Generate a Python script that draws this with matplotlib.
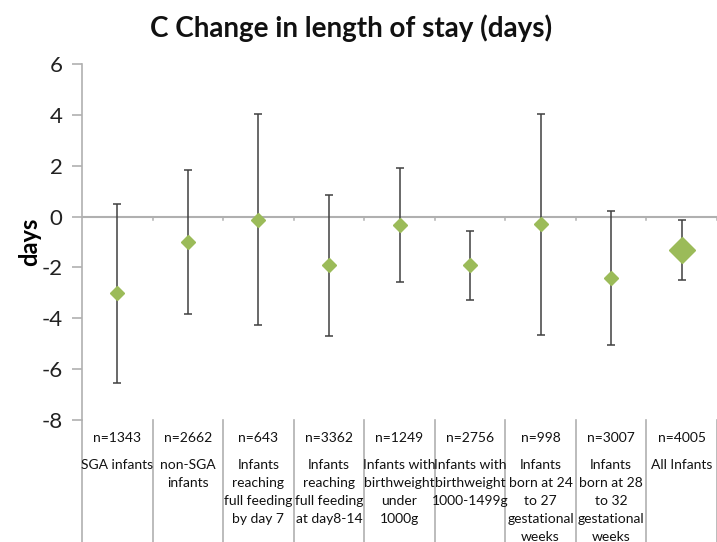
import matplotlib.pyplot as plt
from matplotlib import transforms

plt.rcParams['font.family'] = ['Lato', 'DejaVu Sans']

# change in length of stay, with upper and lower interval limits
groups = ["SGA infants", "non-SGA\ninfants", "Infants\nreaching\nfull feeding\nby day 7",
          "Infants\nreaching\nfull feeding\nat day8-14", "Infants with\nbirthweight\nunder\n1000g",
          "Infants with\nbirthweight\n1000-1499g", "Infants\nborn at 24\nto 27\ngestational\nweeks",
          "Infants\nborn at 28\nto 32\ngestational\nweeks", "All Infants"]
n_counts = ["n=1343", "n=2662", "n=643", "n=3362", "n=1249", "n=2756", "n=998", "n=3007", "n=4005"]
change = [-3.0, -1.0, -0.12, -1.92, -0.33, -1.9, -0.3, -2.42, -1.3]
upper = [0.5, 1.85, 4.02, 0.83, 1.9, -0.55, 4.02, 0.22, -0.15]
lower = [-6.55, -3.85, -4.25, -4.68, -2.58, -3.28, -4.64, -5.07, -2.48]

W, H = 717, 542
fig = plt.figure(figsize=(W / 100, H / 100), dpi=100)
ax = fig.add_axes([82 / W, (H - 420) / H, (W - 82) / W, (420 - 64) / H])

grey = '#b0b0b0'
green = '#9bbb59'
xs = list(range(1, len(groups) + 1))

for i, x in enumerate(xs):
    big = i == len(xs) - 1
    ax.errorbar(x, change[i], yerr=[[change[i] - lower[i]], [upper[i] - change[i]]],
                fmt='none', ecolor='#404040', elinewidth=1.1, capsize=3, capthick=1.1, zorder=3)
    ax.plot(x, change[i], marker='D', color=green, markersize=13 if big else 7.5,
            linestyle='none', zorder=4)

ax.set_xlim(0.5, len(groups) + 0.5)
ax.set_ylim(-8, 6)
ax.set_yticks(range(-8, 7, 2))
ax.set_yticklabels([str(v) for v in range(-8, 7, 2)], fontsize=16, color='#222222')
ax.set_xticks([])
for side in ['top', 'right', 'bottom']:
    ax.spines[side].set_visible(False)
ax.spines['left'].set_color(grey)
ax.spines['left'].set_linewidth(1.2)
ax.tick_params(axis='y', color=grey, length=7, width=1.2, pad=7)

# zero line with category tick marks
ax.axhline(0, color=grey, linewidth=1.5, zorder=1)
for b in [x + 0.5 for x in xs]:
    ax.plot([b, b], [0, -0.13], color=grey, linewidth=1.1, zorder=1)

ax.set_ylabel('days', fontsize=17, fontweight='bold')
ax.yaxis.set_label_coords(-0.064, 0.5)
fig.text(0.49, 1 - 28 / H, 'C Change in length of stay (days)', fontsize=20,
         fontweight='bold', ha='center', va='center', color='#111111')

# table of group sizes and names below the plot
tr = transforms.blended_transform_factory(ax.transData, fig.transFigure)
ax.plot([0.5, 0.5], [0, (H - 420) / H], transform=tr, color=grey, linewidth=1.2, clip_on=False)
for b in [x + 0.5 for x in xs]:
    ax.plot([b, b], [0, (H - 420) / H], transform=tr, color=grey, linewidth=1.2, clip_on=False)
for i, x in enumerate(xs):
    ax.text(x, 1 - 438 / H, n_counts[i], transform=tr, ha='center', va='center',
            fontsize=10, color='#111111')
    ax.text(x, 1 - 459 / H, groups[i], transform=tr, ha='center', va='top',
            fontsize=10, color='#111111', linespacing=1.6)

fig.savefig('out.png', dpi=100)
